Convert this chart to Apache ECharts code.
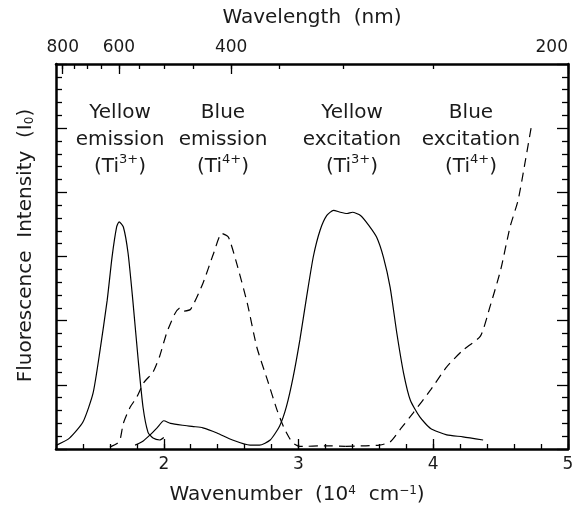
<!DOCTYPE html>
<html>
<head>
<meta charset="utf-8">
<script src="https://cdn.jsdelivr.net/npm/echarts@6.0.0/dist/echarts.min.js"></script>
<style>
  html, body { margin: 0; padding: 0; background: #fff; }
  #chart { width: 578px; height: 506px; }
</style>
</head>
<body>
<div id="chart"></div>
<script>
// wavenumber (10^4 cm^-1) vs fluorescence intensity
const yellowEmission = [
  [1.205, 0.06], [1.30, 0.17], [1.40, 0.42], [1.475, 0.87], [1.527, 1.54], [1.58, 2.32],
  [1.616, 2.99], [1.65, 3.46], [1.668, 3.54], [1.70, 3.46], [1.735, 3.05], [1.77, 2.32],
  [1.81, 1.39], [1.846, 0.65], [1.883, 0.26], [1.92, 0.17], [1.97, 0.14], [2.0, 0.18]
]
const yellowExcitation = [
  [1.787, 0.06], [1.85, 0.13], [1.898, 0.22], [1.95, 0.33], [2.0, 0.44], [2.05, 0.40],
  [2.14, 0.37], [2.22, 0.35], [2.29, 0.33], [2.395, 0.25], [2.51, 0.14], [2.64, 0.06],
  [2.71, 0.06], [2.79, 0.14], [2.86, 0.36], [2.91, 0.66], [2.96, 1.12], [3.01, 1.70],
  [3.06, 2.37], [3.11, 3.0], [3.16, 3.41], [3.21, 3.64], [3.26, 3.72], [3.31, 3.69],
  [3.36, 3.67], [3.40, 3.69], [3.46, 3.64], [3.52, 3.49], [3.58, 3.30], [3.63, 2.99],
  [3.68, 2.52], [3.73, 1.80], [3.78, 1.18], [3.83, 0.76], [3.90, 0.50], [3.98, 0.32],
  [4.10, 0.22], [4.22, 0.19], [4.37, 0.14]
]
const blueEmission = [
  [1.60, 0.03], [1.65, 0.08], [1.675, 0.14], [1.70, 0.40], [1.75, 0.65], [1.80, 0.81],
  [1.85, 1.03], [1.92, 1.20], [1.97, 1.45], [2.02, 1.80], [2.08, 2.10], [2.12, 2.20],
  [2.15, 2.15], [2.20, 2.18], [2.29, 2.58], [2.37, 3.05], [2.43, 3.36], [2.48, 3.30],
  [2.54, 2.90], [2.62, 2.27], [2.69, 1.59], [2.77, 1.07], [2.84, 0.61], [2.89, 0.34],
  [2.93, 0.18], [2.96, 0.09], [3.01, 0.04], [3.2, 0.05], [3.35, 0.04]
]
const blueExcitation = [
  [3.35, 0.04], [3.5, 0.05], [3.6, 0.06], [3.68, 0.11], [3.76, 0.32], [3.85, 0.56],
  [3.98, 0.92], [4.10, 1.28], [4.22, 1.54], [4.35, 1.76], [4.42, 2.21], [4.50, 2.79],
  [4.57, 3.46], [4.63, 3.88], [4.68, 4.45], [4.73, 5.05]
]

// tick labels
const wavenumberLabels = [2, 3, 4, 5]
const wavelengthMinorNm = [800, 750, 700, 650, 600, 550, 500, 450, 400, 350, 300, 250, 200]
const wavelengthMajorNm = [800, 600, 400, 200]

const FONT = 'DejaVu Sans'
const INK = '#000'
const TXT = '#1a1a1a'

// nm -> 10^4 cm^-1
function nmToWn(nm) {
  return 1000 / nm
}

function frameAxis(extra) {
  return Object.assign({
    type: 'value',
    min: 1.2,
    max: 5,
    axisLine: { show: true, lineStyle: { color: INK, width: 2.5 } },
    axisTick: { show: true, inside: true, length: 5, lineStyle: { color: INK, width: 1.3 } },
    axisLabel: { show: false },
    splitLine: { show: false }
  }, extra)
}

const supRich = {
  sup: { fontFamily: FONT, fontSize: 12, verticalAlign: 'top', color: TXT },
  sub: { fontFamily: FONT, fontSize: 12, verticalAlign: 'bottom', color: TXT }
}

function note(x, text) {
  return {
    type: 'text',
    x: x,
    y: 140,
    style: {
      text: text,
      fill: TXT,
      font: '20px "DejaVu Sans"',
      align: 'center',
      verticalAlign: 'middle',
      lineHeight: 27,
      rich: {
        sup: { fontFamily: FONT, fontSize: 13, verticalAlign: 'top', lineHeight: 27, fill: TXT }
      }
    }
  }
}

const line = (name, data, dashed) => ({
  name: name,
  type: 'line',
  xAxisIndex: 0,
  yAxisIndex: 0,
  data: data,
  symbol: 'none',
  smooth: 0.2,
  lineStyle: { color: INK, width: 1.2, type: dashed ? [9, 6] : 'solid' }
})

const chart = echarts.init(document.getElementById('chart'))

chart.setOption({
  animation: false,
  backgroundColor: '#fff',
  grid: { left: 56, right: 10, top: 64, bottom: 57, outerBoundsMode: 'none' },
  xAxis: [
    frameAxis({
      position: 'bottom',
      interval: 0.2,
      axisLabel: {
        show: true,
        customValues: wavenumberLabels,
        margin: 7,
        color: TXT,
        fontFamily: FONT,
        fontSize: 17
      },
      name: 'Wavenumber  (10{sup|4}  cm{sup|−1})',
      nameLocation: 'middle',
      nameGap: 36,
      nameTextStyle: { color: TXT, fontFamily: FONT, fontSize: 20, padding: [0, 30, 0, 0], rich: supRich }
    }),
    frameAxis({
      position: 'bottom',
      axisLine: { show: false },
      axisTick: { show: true, inside: true, length: 10, customValues: wavenumberLabels, lineStyle: { color: INK, width: 1.3 } }
    }),
    frameAxis({
      position: 'top',
      axisTick: { show: true, inside: true, length: 5, customValues: wavelengthMinorNm.map(nmToWn), lineStyle: { color: INK, width: 1.3 } }
    }),
    frameAxis({
      position: 'top',
      axisLine: { show: false },
      axisTick: { show: true, inside: true, length: 10, customValues: wavelengthMajorNm.map(nmToWn), lineStyle: { color: INK, width: 1.3 } },
      axisLabel: {
        show: true,
        customValues: wavelengthMajorNm.map(nmToWn),
        formatter: (v) => String(Math.round(1000 / v)),
        alignMaxLabel: 'right',
        margin: 8,
        color: TXT,
        fontFamily: FONT,
        fontSize: 17
      },
      name: 'Wavelength  (nm)',
      nameLocation: 'middle',
      nameGap: 36,
      nameTextStyle: { color: TXT, fontFamily: FONT, fontSize: 20 }
    })
  ],
  yAxis: [
    {
      type: 'value',
      position: 'left',
      min: 0,
      max: 6,
      interval: 1,
      axisLine: { show: true, lineStyle: { color: INK, width: 2.5 } },
      axisTick: { show: true, inside: true, length: 11, lineStyle: { color: INK, width: 1.3 } },
      minorTick: { show: true, splitNumber: 5, length: 6, lineStyle: { color: INK, width: 1.3 } },
      axisLabel: { show: false },
      splitLine: { show: false },
      name: 'Fluorescence  Intensity  (I{sub|0})',
      nameLocation: 'middle',
      nameGap: 20,
      nameTextStyle: { color: TXT, fontFamily: FONT, fontSize: 20, padding: [0, 0, 0, 22], rich: supRich }
    },
    {
      type: 'value',
      position: 'right',
      min: 0,
      max: 6,
      interval: 1,
      axisLine: { show: true, lineStyle: { color: INK, width: 2.5 } },
      axisTick: { show: true, inside: true, length: 11, lineStyle: { color: INK, width: 1.3 } },
      minorTick: { show: true, splitNumber: 5, length: 6, lineStyle: { color: INK, width: 1.3 } },
      axisLabel: { show: false },
      splitLine: { show: false }
    }
  ],
  graphic: [
    note(120, 'Yellow\nemission\n(Ti{sup|3+})'),
    note(223, 'Blue\nemission\n(Ti{sup|4+})'),
    note(352, 'Yellow\nexcitation\n(Ti{sup|3+})'),
    note(471, 'Blue\nexcitation\n(Ti{sup|4+})')
  ],
  series: [
    line('Yellow emission (Ti3+)', yellowEmission, false),
    line('Yellow excitation (Ti3+)', yellowExcitation, false),
    line('Blue emission (Ti4+)', blueEmission, true),
    line('Blue excitation (Ti4+)', blueExcitation, true)
  ]
})
</script>
</body>
</html>
